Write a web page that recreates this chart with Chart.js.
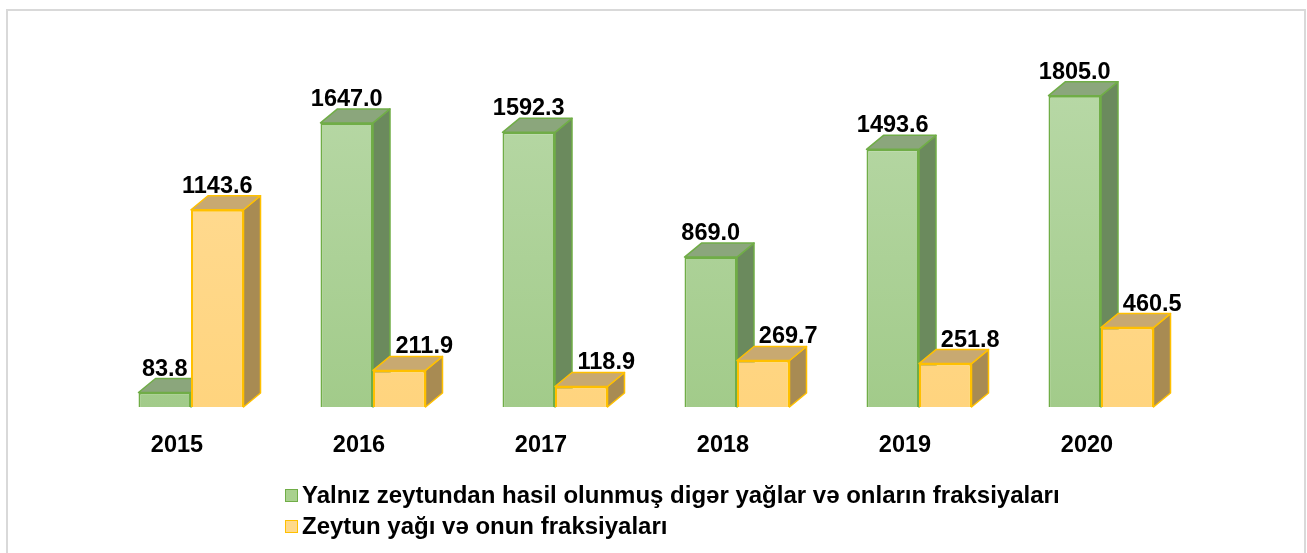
<!DOCTYPE html>
<html>
<head>
<meta charset="utf-8">
<title>Zeytun yağı</title>
<script src="https://cdn.jsdelivr.net/npm/chart.js@4.4.1/dist/chart.umd.min.js"></script>
<style>
  body { margin: 0; background: #fff; }
  canvas { display: block; }
</style>
</head>
<body>
<canvas id="myChart" width="1307" height="553"></canvas>
<script>
var years = ['2015', '2016', '2017', '2018', '2019', '2020'];
var otherOils = [83.8, 1647.0, 1592.3, 869.0, 1493.6, 1805.0];
var oliveOil = [1143.6, 211.9, 118.9, 269.7, 251.8, 460.5];
var seriesNames = [
  'Yalnız zeytundan hasil olunmuş digər yağlar və onların fraksiyaları',
  'Zeytun yağı və onun fraksiyaları'
];

var FONT = '"Liberation Sans", Arial, sans-serif';
var DX = 17, DY = 14; // depth of the fake 3d

var looks = [
  { top: '#b9d9a8', bottom: '#a2cb8a', side: '#6b8a5d', lid: '#8ba67c', line: '#70ad47', box: '#a9d18e' },
  { top: '#ffdd99', bottom: '#ffd47e', side: '#a88b53', lid: '#c8a971', line: '#ffc000', box: '#ffd98a' }
];

function frontFill(i) {
  return function (c) {
    var area = c.chart.chartArea;
    if (!area) return looks[i].bottom;
    var g = c.chart.ctx.createLinearGradient(0, area.top, 0, area.bottom);
    g.addColorStop(0, looks[i].top);
    g.addColorStop(1, looks[i].bottom);
    return g;
  };
}

// side and top faces of one dataset, taken from the bar elements
function drawFaces(chart, di) {
  var ctx = chart.ctx;
  var lk = looks[di];
  chart.getDatasetMeta(di).data.forEach(function (bar) {
    var p = bar.getProps(['x', 'y', 'base', 'width'], true);
    var l = p.x - p.width / 2, r = p.x + p.width / 2;
    ctx.save();
    ctx.lineWidth = 1.5;
    ctx.lineJoin = 'round';
    ctx.strokeStyle = lk.line;
    ctx.beginPath();
    ctx.moveTo(r, p.base);
    ctx.lineTo(r + DX, p.base - DY);
    ctx.lineTo(r + DX, p.y - DY);
    ctx.lineTo(r, p.y);
    ctx.closePath();
    ctx.fillStyle = lk.side;
    ctx.fill();
    ctx.stroke();
    ctx.beginPath();
    ctx.moveTo(l, p.y);
    ctx.lineTo(r, p.y);
    ctx.lineTo(r + DX, p.y - DY);
    ctx.lineTo(l + DX, p.y - DY);
    ctx.closePath();
    ctx.fillStyle = lk.lid;
    ctx.fill();
    ctx.stroke();
    ctx.restore();
  });
}

var bars3d = {
  id: 'bars3d',
  beforeDatasetsDraw: function (chart) {
    drawFaces(chart, 0);
  },
  afterDatasetsDraw: function (chart) {
    drawFaces(chart, 1);
    var ctx = chart.ctx;
    ctx.save();
    ctx.font = 'bold 23.5px ' + FONT;
    ctx.fillStyle = '#000';
    ctx.textAlign = 'center';
    ctx.textBaseline = 'alphabetic';
    [otherOils, oliveOil].forEach(function (vals, di) {
      chart.getDatasetMeta(di).data.forEach(function (bar, i) {
        var x = bar.x;
        // yellow label moves right when the green bar is in the way
        if (di == 1 && otherOils[i] > oliveOil[i]) x += 25;
        ctx.fillText(vals[i].toFixed(1), x, bar.y - DY - 3);
      });
    });
    ctx.restore();
  },
  afterDraw: function (chart) {
    var ctx = chart.ctx;
    ctx.save();
    // frame
    ctx.strokeStyle = '#d9d9d9';
    ctx.lineWidth = 2;
    ctx.strokeRect(7, 10, 1298, 600);
    // legend
    ctx.font = 'bold 24px ' + FONT;
    ctx.textBaseline = 'alphabetic';
    ctx.textAlign = 'left';
    var rowY = [489, 520];
    seriesNames.forEach(function (name, i) {
      ctx.fillStyle = looks[i].box;
      ctx.fillRect(285, rowY[i], 12, 12);
      ctx.strokeStyle = looks[i].line;
      ctx.lineWidth = 1;
      ctx.strokeRect(285.5, rowY[i] + 0.5, 12, 12);
      ctx.fillStyle = '#000';
      ctx.fillText(name, 302, rowY[i] + 14);
    });
    ctx.restore();
  }
};

new Chart('myChart', {
  type: 'bar',
  data: {
    labels: years,
    datasets: [
      {
        label: seriesNames[0],
        data: otherOils,
        backgroundColor: frontFill(0),
        borderColor: looks[0].line,
        borderWidth: 2,
        categoryPercentage: 0.577,
        barPercentage: 1
      },
      {
        label: seriesNames[1],
        data: oliveOil,
        backgroundColor: frontFill(1),
        borderColor: looks[1].line,
        borderWidth: 2,
        categoryPercentage: 0.577,
        barPercentage: 1
      }
    ]
  },
  options: {
    responsive: false,
    animation: false,
    devicePixelRatio: 1,
    layout: { padding: { left: 100, right: 115, top: 62, bottom: 0 } },
    plugins: {
      legend: { display: false },
      tooltip: { enabled: false }
    },
    scales: {
      x: {
        grid: { display: false },
        border: { display: false },
        ticks: {
          color: '#000',
          font: { family: FONT, size: 23.5, weight: 'bold' },
          labelOffset: -14,
          padding: 16
        },
        afterFit: function (scale) { scale.height = 146; }
      },
      y: {
        display: false,
        min: 0,
        max: 2000
      }
    }
  },
  plugins: [bars3d]
});
</script>
</body>
</html>
